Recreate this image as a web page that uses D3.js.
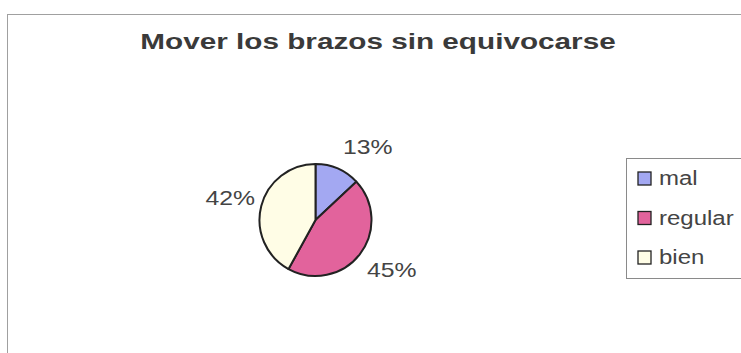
<!DOCTYPE html>
<html>
<head>
<meta charset="utf-8">
<script src="https://cdn.jsdelivr.net/npm/d3@7/dist/d3.min.js"></script>
<style>
  html, body { margin: 0; padding: 0; background: #fff; }
  svg { display: block; font-family: "Liberation Sans", Arial, sans-serif; }
</style>
</head>
<body>
<svg id="chart" width="741" height="353"></svg>
<script>
// Chart data
const categories = ["mal", "regular", "bien"];
const values = [13, 45, 42];
const colors = ["#a3a8f2", "#e2639c", "#fffde6"];
const title = "Mover los brazos sin equivocarse";

const svg = d3.select("#chart");

// Widen a text node horizontally by a factor, keeping its anchor
function widen(sel, factor) {
  sel.each(function () {
    const w = this.getComputedTextLength();
    d3.select(this)
      .attr("textLength", w * factor)
      .attr("lengthAdjust", "spacingAndGlyphs");
  });
}

// Chart area frame (runs off the right and bottom edges)
svg.append("rect")
  .attr("x", 7.5).attr("y", 14.5)
  .attr("width", 760).attr("height", 360)
  .attr("fill", "none")
  .attr("stroke", "#a0a0a0")
  .attr("stroke-width", 1);

// Title
svg.append("text")
  .attr("x", 378).attr("y", 49)
  .attr("text-anchor", "middle")
  .attr("font-size", 22)
  .attr("font-weight", "bold")
  .attr("fill", "#3a3a3a")
  .text(title)
  .call(widen, 1.35);

// Pie
const cx = 315.5, cy = 220, r = 56;
const pie = d3.pie().sort(null).value(d => d);
const arcs = pie(values);
const arc = d3.arc().innerRadius(0).outerRadius(r);

const g = svg.append("g").attr("transform", `translate(${cx},${cy})`);
g.selectAll("path")
  .data(arcs)
  .join("path")
  .attr("d", arc)
  .attr("fill", (d, i) => colors[i])
  .attr("stroke", "#222")
  .attr("stroke-width", 2)
  .attr("stroke-linejoin", "round");

// Percentage labels: pushed out from each slice's mid-angle point on the rim
const labelShift = {
  mal: [30, -15],
  regular: [32, 23],
  bien: [-31, -1]
};
const total = d3.sum(values);
g.selectAll("text.pct")
  .data(arcs)
  .join("text")
  .attr("class", "pct")
  .attr("transform", (d, i) => {
    const a = (d.startAngle + d.endAngle) / 2;
    const s = labelShift[categories[i]];
    const x = Math.sin(a) * r + s[0];
    const y = -Math.cos(a) * r + s[1];
    return `translate(${x},${y})`;
  })
  .attr("text-anchor", "middle")
  .attr("font-size", 21)
  .attr("fill", "#444")
  .text(d => Math.round(d.value / total * 100) + "%")
  .call(widen, 1.18);

// Legend
const legend = svg.append("g");
legend.append("rect")
  .attr("x", 626.5).attr("y", 158.5)
  .attr("width", 140).attr("height", 120)
  .attr("fill", "#fff")
  .attr("stroke", "#8a8a8a")
  .attr("stroke-width", 1);

const legendY = d3.scalePoint().domain(categories).range([185, 264]);
const items = legend.selectAll("g.item")
  .data(categories)
  .join("g")
  .attr("class", "item");
items.append("rect")
  .attr("x", 638).attr("y", d => legendY(d) - 13)
  .attr("width", 13).attr("height", 13)
  .attr("fill", (d, i) => colors[i])
  .attr("stroke", "#222")
  .attr("stroke-width", 1.3);
items.append("text")
  .attr("x", 659).attr("y", d => legendY(d))
  .attr("font-size", 20)
  .attr("fill", "#444")
  .text(d => d)
  .call(widen, 1.2);
</script>
</body>
</html>
